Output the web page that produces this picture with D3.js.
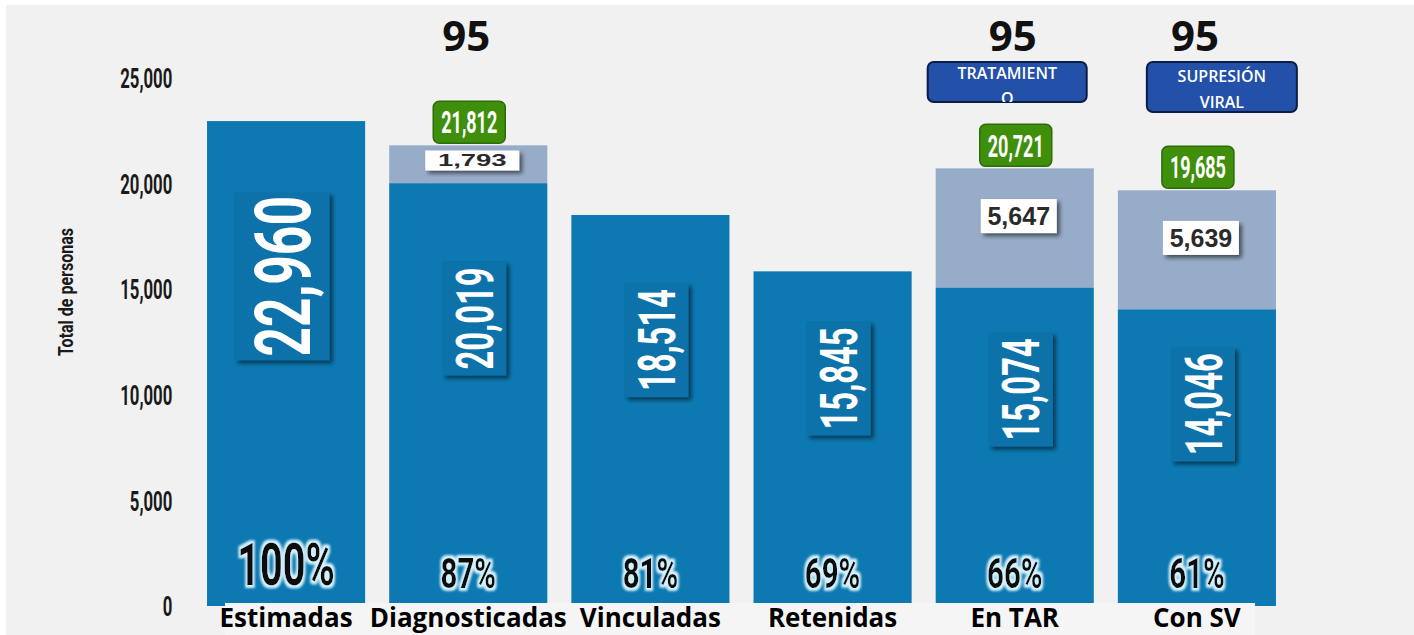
<!DOCTYPE html>
<html><head><meta charset="utf-8">
<script src="https://cdn.jsdelivr.net/npm/d3@7"></script>
<style>
html,body{margin:0;padding:0;background:#fff;}
svg{display:block;}
</style></head>
<body>
<svg id="chart" width="1414" height="635"></svg>
<script>
const categories = ["Estimadas","Diagnosticadas","Vinculadas","Retenidas","En TAR","Con SV"];
const baseValues = [22960,20019,18514,15845,15074,14046];
const totalValues = [null,21812,null,null,20721,19685];
const gapValues = [null,1793,null,null,5647,5639];
const percentLabels = ["100%","87%","81%","69%","66%","61%"];
const targetLabels = [null,"95",null,null,"95","95"];
const targetTags = [null,null,null,null,["TRATAMIENT","O"],["SUPRESIÓN","VIRAL"]];
const yTicks = [0,5000,10000,15000,20000,25000];
const yTitle = "Total de personas";

const svg = d3.select("#chart");
const W = 1414, H = 635;
const DARK = "#0d79b2", LIGHT = "#97acc8", GREEN = "#3f8f0d", TAGBLUE = "#2350a8";
const COND = "Roboto, 'DejaVu Sans', sans-serif";

// defs
const defs = svg.append("defs");
const sh = defs.append("filter").attr("id","shadow").attr("x","-20%").attr("y","-20%").attr("width","150%").attr("height","150%");
sh.append("feDropShadow").attr("dx",3).attr("dy",3).attr("stdDeviation",2).attr("flood-color","#000").attr("flood-opacity",0.55);
const glow = defs.append("filter").attr("id","glow").attr("x","-20%").attr("y","-30%").attr("width","140%").attr("height","160%");
glow.append("feMorphology").attr("in","SourceAlpha").attr("operator","dilate").attr("radius",2.5).attr("result","d");
glow.append("feFlood").attr("flood-color","#d4f1fc").attr("result","c");
glow.append("feComposite").attr("in","c").attr("in2","d").attr("operator","in").attr("result","g");
glow.append("feGaussianBlur").attr("in","g").attr("stdDeviation",1.3).attr("result","gb");
const gm = glow.append("feMerge");
gm.append("feMergeNode").attr("in","gb");
gm.append("feMergeNode").attr("in","SourceGraphic");

// background
svg.append("rect").attr("width",W).attr("height",H).attr("fill","#ffffff");
svg.append("rect").attr("x",6).attr("y",5).attr("width",W-6).attr("height",H-5).attr("fill","#f1f1f1");

const x = d3.scaleBand().domain(categories).range([195,1288]).paddingInner(0.132).paddingOuter(0.066);
const y = d3.scaleLinear().domain([0,25000]).range([606,78]);

// y axis
const ax = svg.append("g").attr("transform","translate(181,0)")
  .call(d3.axisLeft(y).tickValues(yTicks).tickSize(0).tickPadding(14).tickFormat(d3.format(",")));
ax.select(".domain").remove();
ax.selectAll("text").attr("font-family",COND).attr("font-weight",700).attr("font-size",27)
  .attr("fill","#1a1a1a").attr("dy","0.36em").attr("transform","scale(0.62,1)");

svg.append("text").attr("transform","translate(73,292) rotate(-90) scale(0.8,1)")
  .attr("text-anchor","middle").attr("font-family",COND).attr("font-weight",700).attr("font-size",20)
  .attr("fill","#1a1a1a").text(yTitle);

const data = categories.map((c,i)=>({c,i,base:baseValues[i],total:totalValues[i],gap:gapValues[i],pct:percentLabels[i],target:targetLabels[i],tag:targetTags[i]}));
const bw = x.bandwidth();
const cx = d => x(d.c) + bw/2;

// bars
svg.selectAll("rect.light").data(data.filter(d=>d.total!=null)).join("rect").attr("class","light")
  .attr("x",d=>x(d.c)).attr("width",bw).attr("y",d=>y(d.total)).attr("height",d=>y(d.base)-y(d.total)).attr("fill",LIGHT);
svg.selectAll("rect.dark").data(data).join("rect").attr("class","dark")
  .attr("x",d=>x(d.c)).attr("width",bw).attr("y",d=>y(d.base)).attr("height",d=>y(0)-y(d.base)).attr("fill",DARK);

// rotated value labels in boxes
data.forEach(d=>{
  const big = d.i===0;
  const fs = big ? 78 : 52;
  const sx = big ? 0.66 : 0.63;
  const yc = y(d.base*0.68);
  const xc = cx(d) + (big ? -4 : 6);
  const g = svg.append("g").attr("transform",`translate(${xc},${yc})`);
  const bwid = big ? 95 : 64, bh = big ? 168 : 114;
  g.append("rect").attr("x",-bwid/2).attr("y",-bh/2).attr("width",bwid).attr("height",bh)
    .attr("fill","#0b72aa").attr("filter","url(#shadow)");
  g.append("text").attr("transform",`rotate(-90) scale(${sx},1)`)
    .attr("text-anchor","middle").attr("dy","0.36em")
    .attr("font-family",COND).attr("font-weight",700).attr("font-size",fs).attr("fill","#ffffff")
    .text(d3.format(",")(d.base));
});

// percentages
data.forEach(d=>{
  const big = d.i===0;
  svg.append("text").attr("transform",`translate(${cx(d)},${big?585:588}) scale(${big?0.66:0.7},1)`)
    .attr("text-anchor","middle").attr("font-family",COND).attr("font-weight",700)
    .attr("font-size",big?60:42).attr("fill","#111").attr("filter","url(#glow)").text(d.pct);
});

// gap white labels
data.filter(d=>d.gap!=null).forEach(d=>{
  const yc = y(d.total) + 0.4*(y(d.base)-y(d.total));
  const small = (y(d.base)-y(d.total)) < 60;
  const g = svg.append("g").attr("transform",`translate(${cx(d)+4},${yc})`);
  const w = small ? 94 : 76, h = small ? 20 : 34;
  g.append("rect").attr("x",-w/2).attr("y",-h/2).attr("width",w).attr("height",h).attr("fill","#ffffff").attr("filter","url(#shadow)");
  g.append("text").attr("transform",small?"scale(1.25,0.75)":null).attr("text-anchor","middle").attr("dy","0.36em")
    .attr("font-family","'Liberation Sans', Arial, sans-serif").attr("font-weight",700).attr("font-size",small?22:25)
    .attr("fill","#2a2a2a").text(d3.format(",")(d.gap));
});

// green total labels
data.filter(d=>d.total!=null).forEach(d=>{
  const yb = y(d.total) - 2;
  const g = svg.append("g").attr("transform",`translate(${cx(d)+1},${yb-21})`);
  g.append("rect").attr("x",-36).attr("y",-21).attr("width",72).attr("height",42).attr("rx",6)
    .attr("fill",GREEN).attr("stroke","#2d6d08").attr("stroke-width",1.5);
  g.append("text").attr("transform","scale(0.58,1)").attr("text-anchor","middle").attr("dy","0.36em")
    .attr("font-family",COND).attr("font-weight",700).attr("font-size",31).attr("fill","#ffffff")
    .text(d3.format(",")(d.total));
});

// 95 targets
data.filter(d=>d.target!=null).forEach(d=>{
  svg.append("text").attr("x",cx(d)-2).attr("y",51).attr("text-anchor","middle")
    .attr("font-family","'Open Sans', sans-serif").attr("font-weight",700).attr("font-size",42)
    .attr("fill","#111").text(d.target);
});

// blue tags
data.filter(d=>d.tag!=null).forEach(d=>{
  const first = d.i===4;
  const g = svg.append("g");
  const clipId = "clip"+d.i;
  const bx = first ? x(d.c)-8 : x(d.c)+29;
  const bwid = first ? 159 : 150, bh = first ? 40 : 50;
  defs.append("clipPath").attr("id",clipId).append("rect").attr("x",bx).attr("y",62).attr("width",bwid).attr("height",bh).attr("rx",6);
  g.append("rect").attr("x",bx).attr("y",62).attr("width",bwid).attr("height",bh).attr("rx",6)
    .attr("fill",TAGBLUE).attr("stroke","#0c1c44").attr("stroke-width",2);
  const tx = bx + bwid/2;
  const tg = g.append("g").attr("clip-path",`url(#${clipId})`);
  d.tag.forEach((t,k)=>{
    tg.append("text").attr("x",tx).attr("y", first ? 79 + k*25 : 82 + k*26).attr("text-anchor","middle")
      .attr("font-family","'Open Sans', sans-serif").attr("font-weight",600).attr("font-size",16)
      .attr("fill","#ffffff").text(t);
  });
});

// category label strip
svg.append("rect").attr("x",225).attr("y",603).attr("width",1030).attr("height",32).attr("fill","#f5f5f5");
svg.selectAll("text.cat").data(data).join("text").attr("class","cat")
  .attr("x",d=>cx(d)).attr("y",627).attr("text-anchor","middle")
  .attr("font-family","'Open Sans', sans-serif").attr("font-weight",700).attr("font-size",26)
  .attr("fill","#000").text(d=>d.c);
</script>
</body></html>
